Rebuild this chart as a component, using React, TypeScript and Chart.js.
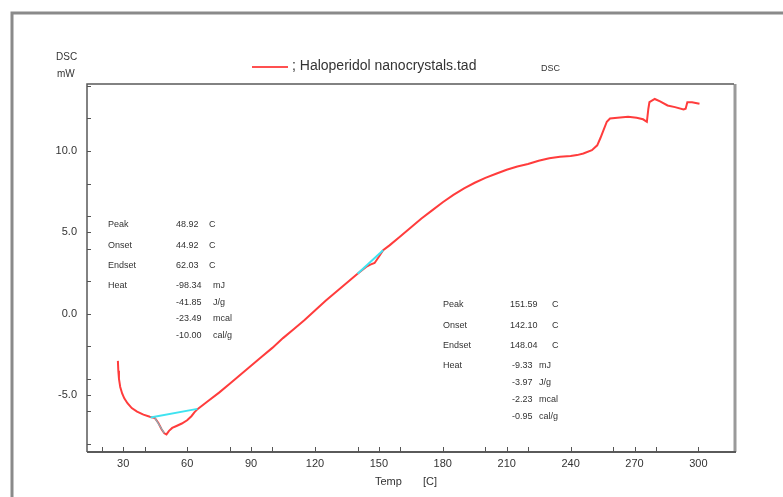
import React, { useEffect, useRef } from "react";
import { Chart, registerables } from "chart.js";

Chart.register(...registerables);

const temps = [27.5, 27.7, 28.0, 28.6, 29.5, 30.5, 32, 34, 36.5, 39.5, 42.5, 44.9, 46.5, 48, 49.3, 50.3, 51.5, 53, 55, 57.5, 60, 62, 63.5, 65, 70, 75, 80, 85, 90, 95, 100, 105, 110, 115, 120, 125, 130, 135, 140, 144, 146, 148, 150, 152, 155, 160, 165, 170, 175, 180, 185, 190, 195, 200, 205, 210, 215, 220, 225, 230, 235, 240, 243, 246, 250, 252.5, 254, 255.5, 257, 258.5, 262, 267, 271, 274, 275.8, 276.5, 277, 279.5, 282, 285.5, 289, 293, 294, 294.8, 297, 300.5];
const dsc = [-2.9, -3.5, -4.0, -4.5, -4.9, -5.2, -5.5, -5.8, -6.02, -6.2, -6.33, -6.42, -6.72, -7.1, -7.35, -7.42, -7.2, -7.02, -6.9, -6.75, -6.55, -6.3, -6.05, -5.85, -5.35, -4.85, -4.3, -3.75, -3.2, -2.65, -2.1, -1.5, -0.95, -0.4, 0.2, 0.8, 1.35, 1.9, 2.45, 2.88, 3.02, 3.12, 3.5, 3.9, 4.2, 4.75, 5.3, 5.85, 6.35, 6.85, 7.3, 7.7, 8.05, 8.35, 8.6, 8.85, 9.05, 9.2, 9.4, 9.55, 9.65, 9.7, 9.75, 9.85, 10.05, 10.35, 10.8, 11.3, 11.8, 12.0, 12.05, 12.1, 12.05, 11.95, 11.8, 12.6, 13.0, 13.2, 13.05, 12.8, 12.7, 12.55, 12.6, 13.0, 13.0, 12.9];

const base1Temps = [42.8, 64.8];
const base1Dsc = [-6.38, -5.85];
const tangentTemps = [44.9, 49.3];
const tangentDsc = [-6.42, -7.35];
const base2Temps = [140, 152];
const base2Dsc = [2.45, 3.9];

const xLabelTicks = [30, 60, 90, 120, 150, 180, 210, 240, 270, 300];
const yLabelTicks = [-5, 0, 5, 10];
const xMinorStep = 20;
const yMinorStep = 2;

const peak1Labels = ["Peak", "Onset", "Endset", "Heat"];
const peak1Values = ["48.92", "44.92", "62.03", "-98.34", "-41.85", "-23.49", "-10.00"];
const peak2Values = ["151.59", "142.10", "148.04", "-9.33", "-3.97", "-2.23", "-0.95"];
const valueUnits = ["C", "C", "C", "mJ", "J/g", "mcal", "cal/g"];

const legendText = "; Haloperidol nanocrystals.tad";
const FONT = "'Liberation Sans Narrow', 'Liberation Sans', Arial, sans-serif";

const toPts = (xs: number[], ys: number[]) => xs.map((x, i) => ({ x, y: ys[i] }));

const decorPlugin = {
  id: "decor",
  beforeDraw(chart: any) {
    const ctx = chart.ctx;
    ctx.save();
    ctx.fillStyle = "#ffffff";
    ctx.fillRect(0, 0, chart.width, chart.height);
    ctx.strokeStyle = "#8a8a8a";
    ctx.lineWidth = 3;
    ctx.beginPath();
    ctx.moveTo(12, chart.height);
    ctx.lineTo(12, 13);
    ctx.lineTo(chart.width, 13);
    ctx.stroke();
    ctx.restore();
  },
  afterDraw(chart: any) {
    const ctx = chart.ctx;
    const a = chart.chartArea;
    const xs = chart.scales.x;
    const ys = chart.scales.y;
    ctx.save();
    // frame
    ctx.strokeStyle = "#9a9a9a";
    ctx.lineWidth = 3;
    ctx.beginPath();
    ctx.moveTo(a.right + 1, a.top);
    ctx.lineTo(a.right + 1, a.bottom);
    ctx.stroke();
    ctx.strokeStyle = "#5a5a5a";
    ctx.lineWidth = 1.5;
    ctx.beginPath();
    ctx.moveTo(a.left, a.bottom);
    ctx.lineTo(a.left, a.top);
    ctx.lineTo(a.right, a.top);
    ctx.stroke();
    ctx.lineWidth = 2;
    ctx.beginPath();
    ctx.moveTo(a.left, a.bottom);
    ctx.lineTo(a.right + 2, a.bottom);
    ctx.stroke();
    // ticks
    ctx.lineWidth = 1;
    ctx.strokeStyle = "#555";
    ctx.beginPath();
    const yv = new Set<number>(yLabelTicks);
    for (let v = Math.ceil(ys.min / yMinorStep) * yMinorStep; v <= ys.max; v += yMinorStep) yv.add(v);
    yv.forEach((v) => {
      const p = Math.round(ys.getPixelForValue(v)) + 0.5;
      ctx.moveTo(a.left, p);
      ctx.lineTo(a.left + 4, p);
    });
    const xv = new Set<number>(xLabelTicks);
    for (let v = Math.ceil(xs.min / xMinorStep) * xMinorStep; v <= xs.max; v += xMinorStep) xv.add(v);
    xv.forEach((v) => {
      const p = Math.round(xs.getPixelForValue(v)) + 0.5;
      ctx.moveTo(p, a.bottom);
      ctx.lineTo(p, a.bottom - 5);
    });
    ctx.stroke();

    // texts
    ctx.fillStyle = "#333";
    ctx.textBaseline = "middle";
    ctx.textAlign = "left";
    ctx.font = `10px ${FONT}`;
    ctx.fillText("DSC", 56, 57);
    ctx.fillText("mW", 57, 74);
    ctx.font = `9px ${FONT}`;
    ctx.fillText("DSC", 541, 69);
    ctx.font = `11px ${FONT}`;
    ctx.fillText("Temp", 375, 482);
    ctx.fillText("[C]", 423, 482);

    // legend
    ctx.strokeStyle = "#ff5050";
    ctx.lineWidth = 2;
    ctx.beginPath();
    ctx.moveTo(252, 67);
    ctx.lineTo(288, 67);
    ctx.stroke();
    ctx.font = `14px ${FONT}`;
    ctx.fillStyle = "#333";
    ctx.fillText(legendText, 292, 66);

    // annotations
    ctx.font = `9px ${FONT}`;
    const rows1 = [225, 246, 266, 286, 303, 319, 336];
    peak1Labels.forEach((t, i) => ctx.fillText(t, 108, rows1[i]));
    peak1Values.forEach((t, i) => {
      ctx.fillText(t, 176, rows1[i]);
      ctx.fillText(valueUnits[i], i < 3 ? 209 : 213, rows1[i]);
    });
    const rows2 = [305, 326, 346, 366, 383, 400, 417];
    peak1Labels.forEach((t, i) => ctx.fillText(t, 443, rows2[i]));
    peak2Values.forEach((t, i) => {
      ctx.fillText(t, i < 3 ? 510 : 512, rows2[i]);
      ctx.fillText(valueUnits[i], i < 3 ? 552 : 539, rows2[i]);
    });
    ctx.restore();
  },
};

export default function App() {
  const ref = useRef<HTMLCanvasElement | null>(null);
  useEffect(() => {
    document.body.style.margin = "0";
    const canvas = ref.current!;
    const chart = new Chart(canvas, {
      type: "line",
      data: {
        datasets: [
          {
            data: toPts(base1Temps, base1Dsc),
            borderColor: "#3fe3f0",
            borderWidth: 2,
            pointRadius: 0,
            order: 0,
          },
          {
            data: toPts(tangentTemps, tangentDsc),
            borderColor: "#80b8c0",
            borderWidth: 1.2,
            pointRadius: 0,
            order: 1,
          },
          {
            data: toPts(base2Temps, base2Dsc),
            borderColor: "#3fe3f0",
            borderWidth: 2,
            pointRadius: 0,
            order: 0,
          },
          {
            data: toPts(temps, dsc),
            borderColor: "#ff3c3c",
            borderWidth: 2,
            pointRadius: 0,
            tension: 0,
            order: 2,
          },
        ],
      },
      options: {
        animation: false,
        responsive: false,
        devicePixelRatio: 1,
        parsing: false as any,
        layout: { padding: { top: 84, right: 49, left: 0, bottom: 0 } },
        plugins: { legend: { display: false }, tooltip: { enabled: false } },
        scales: {
          x: {
            type: "linear",
            min: 13,
            max: 316.7,
            grid: { display: false },
            border: { display: false },
            afterBuildTicks: (s: any) => {
              s.ticks = xLabelTicks.map((v) => ({ value: v }));
            },
            afterFit: (s: any) => {
              s.height = 45;
            },
            ticks: {
              autoSkip: false,
              maxRotation: 0,
              padding: -3,
              color: "#333",
              font: { family: FONT, size: 11 },
              callback: (v: any) => String(v),
            },
          },
          y: {
            type: "linear",
            min: -8.5,
            max: 14.12,
            grid: { display: false },
            border: { display: false },
            afterBuildTicks: (s: any) => {
              s.ticks = yLabelTicks.map((v) => ({ value: v }));
            },
            afterFit: (s: any) => {
              s.width = 87;
            },
            ticks: {
              autoSkip: false,
              padding: 2,
              color: "#333",
              font: { family: FONT, size: 11 },
              callback: (v: any) => Number(v).toFixed(1),
            },
          },
        },
      },
      plugins: [decorPlugin],
    });
    return () => chart.destroy();
  }, []);
  return <canvas ref={ref} width={783} height={497} style={{ display: "block" }} />;
}
